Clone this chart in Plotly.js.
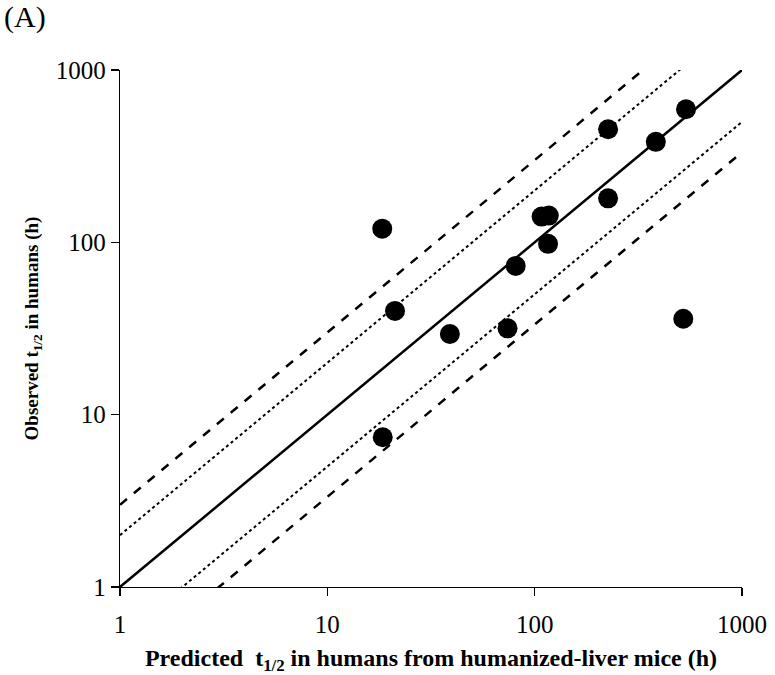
<!DOCTYPE html>
<html>
<head>
<meta charset="utf-8">
<script src="https://cdn.plot.ly/plotly-3.0.1.min.js"></script>
<style>
  html, body { margin: 0; padding: 0; background: #fff; }
  #chart { width: 775px; height: 675px; }
</style>
</head>
<body>
<div id="chart"></div>
<script>
// Predicted vs observed human half-life (h), log-log
const predicted = [18.4, 226, 226, 108, 117, 116, 81, 21.2, 39, 74, 521, 18.5, 537, 384];
const observed  = [120, 453, 180, 141, 143, 98, 73, 40, 29.4, 31.7, 36, 7.4, 592, 383];

// Fold-error reference lines: y = k * x
const lineX = [1, 1000];
const unityFold = 1;
const twoFold = [2, 0.5];
const threeFold = [3, 1 / 3];

const tickVals = [1, 10, 100, 1000];
const tickText = ['1', '10', '100', '1000'];

const fontFamily = '"Liberation Serif", "Times New Roman", serif';

function foldLine(k, dash, width) {
  return {
    x: lineX,
    y: lineX.map(v => v * k),
    mode: 'lines',
    type: 'scatter',
    line: { color: '#000', width: width, dash: dash },
    hoverinfo: 'skip',
    showlegend: false
  };
}

const traces = [
  foldLine(unityFold, 'solid', 2.5),
  ...twoFold.map(k => foldLine(k, 'dot', 2)),
  ...threeFold.map(k => foldLine(k, '9px,9px', 2.5)),
  {
    x: predicted,
    y: observed,
    mode: 'markers',
    type: 'scatter',
    marker: { color: '#000', size: 20 },
    cliponaxis: false,
    showlegend: false
  }
];

const axisCommon = {
  type: 'log',
  range: [0, 3],
  tickvals: tickVals,
  ticktext: tickText,
  ticks: 'outside',
  ticklen: 8,
  tickwidth: 1.2,
  tickcolor: '#000',
  showline: true,
  linecolor: '#000',
  linewidth: 1.2,
  showgrid: false,
  zeroline: false,
  tickfont: { family: fontFamily, size: 25, color: '#000' }
};

const layout = {
  width: 775,
  height: 675,
  margin: { l: 120, r: 33, t: 70, b: 88 },
  paper_bgcolor: '#fff',
  plot_bgcolor: '#fff',
  font: { family: fontFamily, color: '#000' },
  xaxis: Object.assign({}, axisCommon, {
    ticklabelstandoff: 7,
    title: {
      text: '<b>Predicted  t<sub>1/2</sub> in humans from humanized-liver mice (h)</b>',
      font: { family: fontFamily, size: 24, color: '#000' },
      standoff: 12
    }
  }),
  yaxis: Object.assign({}, axisCommon, {
    title: {
      text: '<b>Observed t<sub>1/2</sub> in humans (h)</b>',
      font: { family: fontFamily, size: 19, color: '#000' },
      standoff: 12
    }
  }),
  annotations: [{
    text: '(A)',
    xref: 'paper', yref: 'paper',
    x: -0.19, y: 1.1025,
    xanchor: 'left', yanchor: 'middle',
    showarrow: false,
    font: { family: fontFamily, size: 30, color: '#000' }
  }]
};

Plotly.newPlot('chart', traces, layout, { displayModeBar: false, staticPlot: true });
</script>
</body>
</html>
